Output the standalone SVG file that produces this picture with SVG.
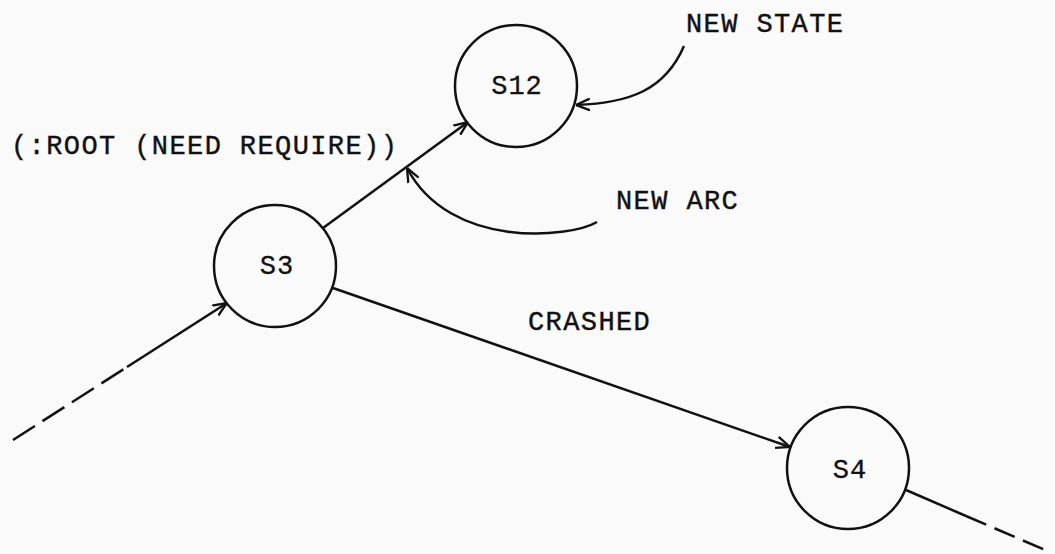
<svg xmlns="http://www.w3.org/2000/svg" width="1055" height="554" viewBox="0 0 1055 554">
<style>
.node{fill:none;stroke:#111;stroke-width:2.5}
.lbl{font-family:"Liberation Mono","DejaVu Sans Mono",monospace;font-size:27px;fill:#111;stroke:#111;stroke-width:0.4;letter-spacing:1.4px}
.nl{font-family:"Liberation Mono","DejaVu Sans Mono",monospace;font-size:27px;fill:#111;stroke:#111;stroke-width:0.3;text-anchor:middle;letter-spacing:1px}
.edge{fill:none;stroke:#111;stroke-width:2.5}
.dash{stroke-dasharray:26 9}
</style>
<defs>
<marker id="arr" viewBox="0 0 12 12" refX="12" refY="6" markerWidth="14" markerHeight="14" markerUnits="userSpaceOnUse" orient="auto">
<path d="M0,1 L12,6 L0,11" fill="none" stroke="#111" stroke-width="2"/>
</marker>
</defs>
<rect width="1055" height="554" fill="#fafafa"/>
<g id="connectors">
<path class="edge dash" d="M13,440 L127,367"/>
<path class="edge" d="M127,367 L227,303" marker-end="url(#arr)"/>
<path class="edge" d="M323,228 L468,122" marker-end="url(#arr)"/>
<path class="edge" d="M333,288 L790,447" marker-end="url(#arr)"/>
<path class="edge" d="M906,490 L966,516"/>
<path class="edge dash" d="M966,516 L1045,550" style="stroke-dasharray:22 9"/>
<path class="edge" d="M684,46 C665,90 630,103 576,105" marker-end="url(#arr)"/>
<path class="edge" d="M597,222 C570,238 450,250 407,168" marker-end="url(#arr)"/>
</g>
<g id="S12"><circle class="node" cx="516" cy="86" r="61"/><text class="nl" x="517" y="94">S12</text></g>
<g id="S3"><circle class="node" cx="275" cy="266" r="61"/><text class="nl" x="277" y="274">S3</text></g>
<g id="S4"><circle class="node" cx="848" cy="468" r="61"/><text class="nl" x="850" y="478">S4</text></g>
<g id="labels">
<text class="lbl" x="11" y="154">(:ROOT (NEED REQUIRE))</text>
<text class="lbl" x="686" y="32">NEW STATE</text>
<text class="lbl" x="616" y="209">NEW ARC</text>
<text class="lbl" x="528" y="330">CRASHED</text>
</g>
</svg>
